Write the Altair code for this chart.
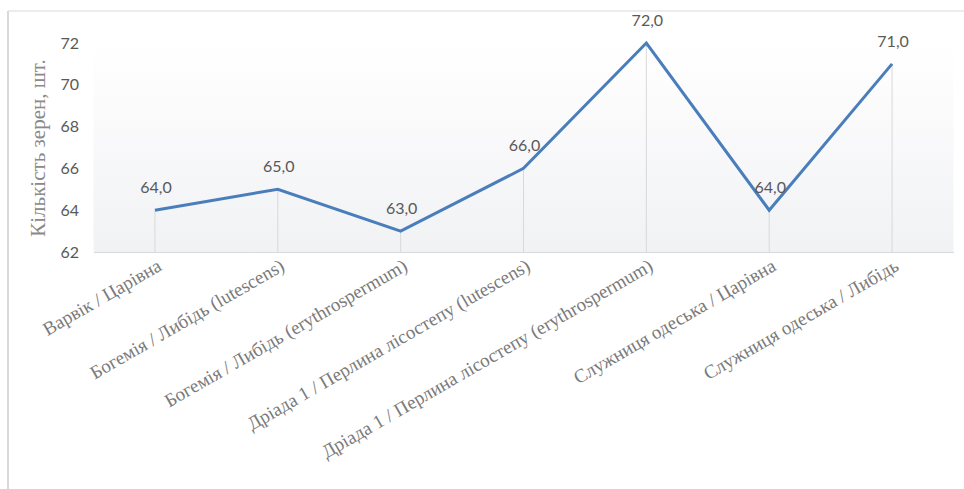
import altair as alt
import pandas as pd

categories = [
    "Варвік / Царівна",
    "Богемія / Либідь (lutescens)",
    "Богемія / Либідь (erythrospermum)",
    "Дріада 1 / Перлина лісостепу (lutescens)",
    "Дріада 1 / Перлина лісостепу (erythrospermum)",
    "Служниця одеська / Царівна",
    "Служниця одеська / Либідь",
]
values = [64.0, 65.0, 63.0, 66.0, 72.0, 64.0, 71.0]
y_ticks = [62, 64, 66, 68, 70, 72]
y_min, y_max = 62, 72

df = pd.DataFrame({
    "cat": categories,
    "val": values,
    "label": [f"{v:.1f}".replace(".", ",") for v in values],
})

W, H = 860, 209
PAD = {"left": 93.5, "top": 43, "right": 10.5, "bottom": 237}

x_enc = alt.X(
    "cat:N", sort=categories,
    scale=alt.Scale(type="point", padding=0.5),
    axis=alt.Axis(
        title=None, labelAngle=-30, labelAlign="right", labelBaseline="top",
        labelFont="Liberation Serif", labelFontSize=19, labelColor="#7a7a7a",
        labelPadding=4, ticks=False, grid=False, domain=True,
        domainColor="#d9d9d9", domainWidth=1, labelLimit=0,
    ),
)
y_enc = alt.Y(
    "val:Q",
    scale=alt.Scale(domain=[y_min, y_max], nice=False, zero=False),
    axis=alt.Axis(
        values=y_ticks, title="Кількість зерен, шт.",
        titleFont="Liberation Serif", titleFontSize=21, titleFontWeight="normal",
        titleColor="#8a8a8a", titlePadding=11,
        labelFont="Lato", labelFontSize=16, labelColor="#595959", labelPadding=15,
        domain=False, ticks=False, grid=False,
    ),
)

bg = alt.Chart(alt.Data(values=[{}])).mark_rect(
    color=alt.LinearGradient(
        gradient="linear",
        stops=[
            alt.GradientStop(offset=0, color="#ffffff"),
            alt.GradientStop(offset=0.3, color="#fbfbfc"),
            alt.GradientStop(offset=1, color="#f1f2f4"),
        ],
        x1=0, x2=0, y1=0, y2=1,
    )
).encode(x=alt.value(0), x2=alt.value("width"), y=alt.value(0), y2=alt.value("height"))

base = alt.Chart(df)

drops = base.mark_rule(color="#d9d9d9", strokeWidth=1).encode(
    x=x_enc, y=y_enc, y2=alt.datum(y_min)
)
line = base.mark_line(color="#4a7ebb", strokeWidth=3).encode(x=x_enc, y=y_enc)
labels = base.mark_text(
    baseline="middle", dy=-22, dx=1, font="Lato", fontSize=16, color="#595959"
).encode(x=x_enc, y=y_enc, text="label:N")

frame = alt.Chart(alt.Data(values=[{}]))
top_border = frame.mark_rule(color="#d9d9d9", strokeWidth=1).encode(
    x=alt.value(-85.5), x2=alt.value(W + 20), y=alt.value(-32)
)
left_border = frame.mark_rule(color="#d9d9d9", strokeWidth=2).encode(
    x=alt.value(-85.5), y=alt.value(-32), y2=alt.value(H + 260)
)

chart = alt.layer(bg, drops, line, labels, top_border, left_border).properties(
    width=W, height=H,
    autosize=alt.AutoSizeParams(type="none"),
    padding=PAD,
    background="white",
).configure_view(strokeWidth=0)

chart.save("out.html", embed_options={"renderer": "svg", "actions": False})
